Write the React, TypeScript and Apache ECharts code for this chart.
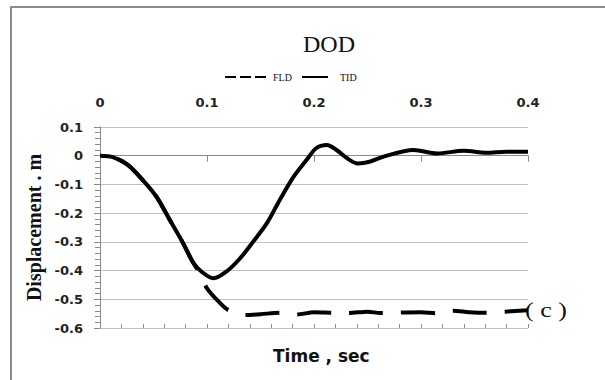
import React, { useEffect, useRef } from "react";
import * as echarts from "echarts";

const xTicks = [0, 0.1, 0.2, 0.3, 0.4];
const yRange = [-0.6, 0.1];

const tTID = [0, 0.012, 0.026, 0.04, 0.053, 0.065, 0.077, 0.087, 0.095, 0.106, 0.118, 0.131, 0.143, 0.156, 0.168, 0.181, 0.193, 0.202, 0.212, 0.221, 0.231, 0.241, 0.252, 0.265, 0.293, 0.315, 0.34, 0.361, 0.38, 0.4];
const yTID = [0, -0.005, -0.032, -0.085, -0.144, -0.222, -0.3, -0.372, -0.404, -0.427, -0.404, -0.357, -0.3, -0.235, -0.154, -0.073, -0.015, 0.026, 0.037, 0.02, -0.009, -0.027, -0.021, -0.003, 0.02, 0.008, 0.017, 0.01, 0.014, 0.014];

const tFLD = [0, 0.012, 0.026, 0.04, 0.053, 0.065, 0.077, 0.087, 0.094, 0.1, 0.11, 0.12, 0.136, 0.15, 0.168, 0.184, 0.2, 0.217, 0.232, 0.25, 0.262, 0.28, 0.3, 0.315, 0.33, 0.345, 0.361, 0.379, 0.4];
const yFLD = [0, -0.005, -0.032, -0.085, -0.144, -0.222, -0.3, -0.372, -0.415, -0.462, -0.505, -0.538, -0.555, -0.552, -0.547, -0.553, -0.545, -0.547, -0.548, -0.543, -0.548, -0.546, -0.545, -0.549, -0.54, -0.545, -0.547, -0.543, -0.538];

const seriesNames = ["FLD", "TID"];

export default function App() {
  const ref = useRef<HTMLDivElement>(null);
  useEffect(() => {
    if (!ref.current) return;
    const chart = echarts.init(ref.current, null, { renderer: "svg" });
    const tickFont = { fontFamily: "DejaVu Sans", fontWeight: "bold", fontSize: 13, color: "#222" };
    const legendText = { fontFamily: "Liberation Serif", fontSize: 10, color: "#111" };
    chart.setOption({
      animation: false,
      backgroundColor: "#fff",
      title: {
        text: "DOD",
        left: 324,
        top: 27,
        textAlign: "center",
        textStyle: { fontFamily: "Liberation Serif", fontWeight: "normal", fontSize: 24, color: "#111" },
      },
      legend: [
        {
          data: [{ name: seriesNames[0], icon: "path://M0,0h11v2h-11zM15,0h11v2h-11zM30,0h11v2h-11z" }],
          left: 220,
          top: 67,
          itemWidth: 41,
          itemHeight: 2,
          textStyle: { ...legendText, padding: [0, 0, 0, 2] },
        },
        {
          data: [{ name: seriesNames[1], icon: "path://M0,0h26v2h-26z" }],
          left: 297,
          top: 67,
          itemWidth: 26,
          itemHeight: 2,
          textStyle: { ...legendText, padding: [0, 0, 0, 7] },
        },
      ],
      grid: { left: 100, right: 77, top: 127, bottom: 52, containLabel: false },
      xAxis: [
        {
          type: "value",
          position: "top",
          min: xTicks[0],
          max: xTicks[xTicks.length - 1],
          interval: 0.1,
          axisLine: { show: false, onZero: false },
          axisTick: { show: false },
          splitLine: { show: false },
          axisLabel: { ...tickFont, margin: 18, formatter: (v: number) => String(Math.round(v * 10) / 10) },
        },
        {
          type: "value",
          position: "bottom",
          min: xTicks[0],
          max: xTicks[xTicks.length - 1],
          interval: 0.1,
          axisLine: { show: true, onZero: true, lineStyle: { color: "#8a8a8a", width: 1 } },
          axisTick: { show: true, length: 6, lineStyle: { color: "#8a8a8a" } },
          splitLine: { show: false },
          axisLabel: { show: false },
        },
        {
          type: "value",
          position: "bottom",
          min: xTicks[0],
          max: xTicks[xTicks.length - 1],
          interval: 0.02,
          axisLine: { show: false, onZero: true },
          axisTick: { show: true, inside: true, length: 4, lineStyle: { color: "#8a8a8a" } },
          splitLine: { show: false },
          axisLabel: { show: false },
        },
      ],
      yAxis: {
        type: "value",
        min: yRange[0],
        max: yRange[1],
        interval: 0.1,
        name: "Displacement . m",
        nameLocation: "middle",
        nameGap: 56,
        nameTextStyle: { fontFamily: "Liberation Serif", fontWeight: "bold", fontSize: 20, color: "#111" },
        axisLine: { show: true, onZero: false, lineStyle: { color: "#8a8a8a" } },
        axisTick: { show: true, length: 6, lineStyle: { color: "#8a8a8a" } },
        minorTick: { show: true, splitNumber: 5, length: 5, lineStyle: { color: "#8a8a8a" } },
        splitLine: { show: true, lineStyle: { color: "#c0c0c0", width: 1.2 } },
        axisLabel: { ...tickFont, margin: 17, formatter: (v: number) => String(Math.round(v * 10) / 10) },
      },
      graphic: [
        {
          type: "rect",
          shape: { x: 11, y: 7, width: 640, height: 420 },
          style: { fill: "none", stroke: "#8c8c8c", lineWidth: 2 },
          silent: true,
        },
        {
          type: "text",
          left: 273,
          top: 347,
          style: { text: "Time , sec", fontFamily: "DejaVu Sans", fontWeight: "bold", fontSize: 17, fill: "#111" },
        },
        {
          type: "text",
          x: 525,
          y: 300,
          scaleX: 1.3,
          style: { text: "( c )", fontFamily: "Liberation Serif", fontSize: 20, fill: "#111" },
        },
      ],
      series: [
        {
          name: seriesNames[0],
          type: "line",
          xAxisIndex: 0,
          symbol: "none",
          smooth: 0.3,
          data: tFLD.map((t, i) => [t, yFLD[i]]),
          lineStyle: { color: "#000", width: 4, type: [34, 18], dashOffset: 34, cap: "butt" },
          itemStyle: { color: "#000" },
          z: 2,
        },
        {
          name: seriesNames[1],
          type: "line",
          xAxisIndex: 0,
          symbol: "none",
          smooth: 0.3,
          data: tTID.map((t, i) => [t, yTID[i]]),
          lineStyle: { color: "#000", width: 4 },
          itemStyle: { color: "#000" },
          z: 3,
        },
      ],
    });
    return () => chart.dispose();
  }, []);
  return <div ref={ref} style={{ position: "absolute", left: 0, top: 0, width: 605, height: 380 }} />;
}
